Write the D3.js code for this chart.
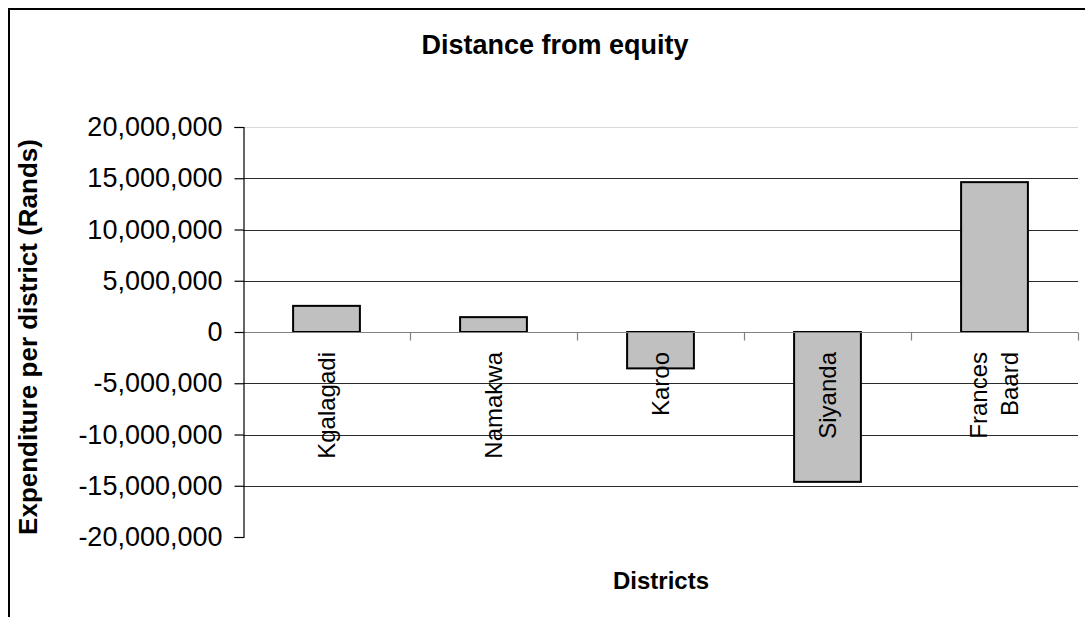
<!DOCTYPE html>
<html>
<head>
<meta charset="utf-8">
<script src="https://cdn.jsdelivr.net/npm/d3@7"></script>
<style>
  html, body { margin: 0; padding: 0; background: #fff; overflow: hidden; }
  svg { display: block; }
  text { font-family: "Liberation Sans", Arial, sans-serif; fill: #000; }
</style>
</head>
<body>
<svg id="chart" width="1085" height="617"></svg>
<script>
// Distance from equity per district (Rands)
const districts = ["Kgalagadi", "Namakwa", "Karoo", "Siyanda", "Frances Baard"];
const distance = [2550000, 1450000, -3550000, -14620000, 14620000];
const yTicks = [-20000000, -15000000, -10000000, -5000000, 0, 5000000, 10000000, 15000000, 20000000];

const svg = d3.select("#chart");
const plot = { left: 243, right: 1078, top: 127, bottom: 537 };

// outer chart frame (runs past the right and bottom edges)
svg.append("rect")
  .attr("x", 9).attr("y", 9)
  .attr("width", 1200).attr("height", 800)
  .attr("fill", "none").attr("stroke", "#000").attr("stroke-width", 2);

const x = d3.scaleBand().domain(districts).range([plot.left, plot.right]).paddingInner(0).paddingOuter(0);
const y = d3.scaleLinear().domain([-20000000, 20000000]).range([plot.bottom, plot.top]);
const locale = d3.formatLocale({ decimal: ".", thousands: ",", grouping: [3], currency: ["", ""], minus: "-" });
const fmt = locale.format(",");

// title
svg.append("text")
  .attr("x", 555).attr("y", 54)
  .attr("text-anchor", "middle")
  .style("font-weight", "bold").style("font-size", "27px")
  .text("Distance from equity");

// plot area top edge
svg.append("line")
  .attr("x1", plot.left).attr("x2", plot.right)
  .attr("y1", y(20000000) + 0.5).attr("y2", y(20000000) + 0.5)
  .attr("stroke", "#d9d9d9").attr("stroke-width", 1);

// horizontal gridlines
svg.append("g").selectAll("line")
  .data(yTicks.filter(v => v !== 0 && Math.abs(v) < 20000000))
  .join("line")
  .attr("x1", plot.left).attr("x2", plot.right)
  .attr("y1", d => Math.round(y(d)) + 0.5).attr("y2", d => Math.round(y(d)) + 0.5)
  .attr("stroke", "#2b2b2b").attr("stroke-width", 1);

// bars
svg.append("g").selectAll("rect")
  .data(districts)
  .join("rect")
  .attr("x", d => x(d) + x.bandwidth() * 0.3)
  .attr("width", x.bandwidth() * 0.4)
  .attr("y", (d, i) => y(Math.max(0, distance[i])))
  .attr("height", (d, i) => Math.abs(y(distance[i]) - y(0)))
  .attr("fill", "#c0c0c0")
  .attr("stroke", "#000").attr("stroke-width", 2);

// zero line with category ticks
const zeroY = Math.round(y(0)) + 0.5;
svg.append("line")
  .attr("x1", plot.left).attr("x2", plot.right)
  .attr("y1", zeroY).attr("y2", zeroY)
  .attr("stroke", "#808080").attr("stroke-width", 1.2);
const boundaries = districts.map(d => x(d)).slice(1).concat([plot.right]);
svg.append("g").selectAll("line")
  .data(boundaries)
  .join("line")
  .attr("x1", d => Math.round(d) + 0.5).attr("x2", d => Math.round(d) + 0.5)
  .attr("y1", zeroY).attr("y2", zeroY + 8)
  .attr("stroke", "#808080").attr("stroke-width", 1.2);

// y axis
const yAxis = d3.axisLeft(y).tickValues(yTicks).tickSize(9).tickPadding(12).tickFormat(fmt);
const gy = svg.append("g").attr("transform", `translate(${plot.left + 0.5},0)`).call(yAxis);
gy.select(".domain").attr("stroke", "#000").attr("stroke-width", 1.2);
gy.selectAll(".tick line").attr("stroke", "#000").attr("stroke-width", 1.2);
gy.selectAll(".tick text")
  .style("font-size", "27px").style("font-family", "'Liberation Sans', Arial, sans-serif")
  .attr("fill", "#000");

// category labels, rotated, reading upward
const labelTop = 352;
districts.forEach(d => {
  const cx = x(d) + x.bandwidth() / 2;
  const words = d.split(" ");
  const lineGap = 31;
  words.forEach((w, k) => {
    const off = (k - (words.length - 1) / 2) * lineGap;
    svg.append("text")
      .attr("transform", `translate(${cx + off + 8},${labelTop}) rotate(-90)`)
      .attr("text-anchor", "end")
      .style("font-size", "24px")
      .text(w);
  });
});

// axis titles
svg.append("text")
  .attr("x", 661).attr("y", 589)
  .attr("text-anchor", "middle")
  .style("font-weight", "bold").style("font-size", "24px")
  .text("Districts");

svg.append("text")
  .attr("transform", `translate(37,337) rotate(-90)`)
  .attr("text-anchor", "middle")
  .style("font-weight", "bold").style("font-size", "26px")
  .text("Expenditure per district (Rands)");
</script>
</body>
</html>
